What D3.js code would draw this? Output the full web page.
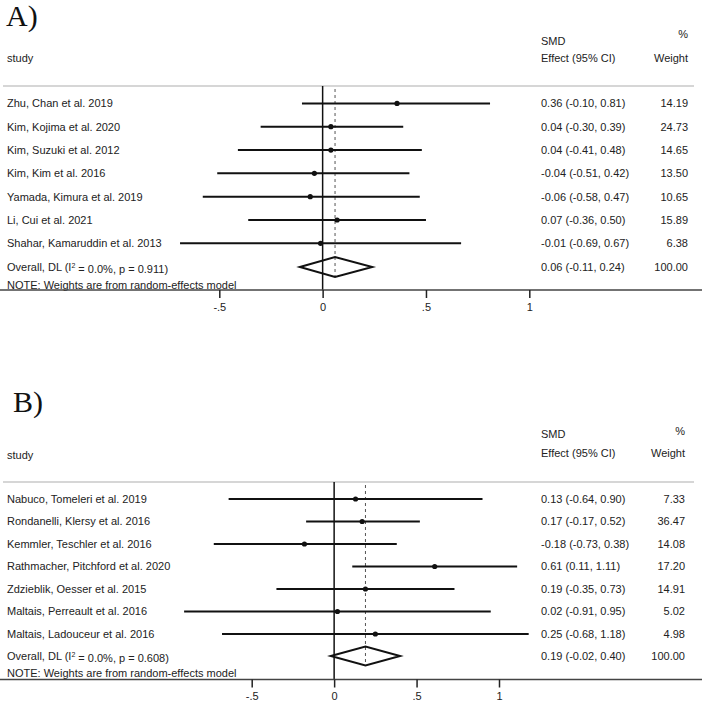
<!DOCTYPE html>
<html>
<head>
<meta charset="utf-8">
<script src="https://cdn.jsdelivr.net/npm/d3@7"></script>
<style>
html,body{margin:0;padding:0;background:#fff;}
svg{display:block;}
text{font-family:"Liberation Sans",Arial,sans-serif;font-size:11px;fill:#222;}
</style>
</head>
<body>
<div id="chart"></div>
<script>
// ---------- Data ----------
const studiesA = ["Zhu, Chan et al. 2019","Kim, Kojima et al. 2020","Kim, Suzuki et al. 2012","Kim, Kim et al. 2016","Yamada, Kimura et al. 2019","Li, Cui et al. 2021","Shahar, Kamaruddin et al. 2013"];
const effA = [0.36, 0.04, 0.04, -0.04, -0.06, 0.07, -0.01];
const lowA = [-0.10, -0.30, -0.41, -0.51, -0.58, -0.36, -0.69];
const highA = [0.81, 0.39, 0.48, 0.42, 0.47, 0.50, 0.67];
const weightA = ["14.19","24.73","14.65","13.50","10.65","15.89","6.38"];
const overallA = {est:0.06, low:-0.11, high:0.24, p:"0.911", i2:"0.0%", weight:"100.00"};

const studiesB = ["Nabuco, Tomeleri et al. 2019","Rondanelli, Klersy et al. 2016","Kemmler, Teschler et al. 2016","Rathmacher, Pitchford et al. 2020","Zdzieblik, Oesser et al. 2015","Maltais, Perreault et al. 2016","Maltais, Ladouceur et al. 2016"];
const effB = [0.13, 0.17, -0.18, 0.61, 0.19, 0.02, 0.25];
const lowB = [-0.64, -0.17, -0.73, 0.11, -0.35, -0.91, -0.68];
const highB = [0.90, 0.52, 0.38, 1.11, 0.73, 0.95, 1.18];
const weightB = ["7.33","36.47","14.08","17.20","14.91","5.02","4.98"];
const overallB = {est:0.19, low:-0.02, high:0.40, p:"0.608", i2:"0.0%", weight:"100.00"};

const tickValues = [-0.5, 0, 0.5, 1];
const tickLabels = ["-.5", "0", ".5", "1"];

// ---------- Drawing ----------
const W = 702, H = 703;
const svg = d3.select("#chart").append("svg").attr("width", W).attr("height", H);

const fmt = v => (v < 0 ? "-" : "") + Math.abs(v).toFixed(2);

function panel(cfg){
  const g = svg.append("g");
  const x = d3.scaleLinear().domain([-0.5, 1]).range(cfg.xr);
  const n = cfg.studies.length;
  const y = d3.scaleLinear().domain([0, n - 1]).range([cfg.row0, cfg.rowN]);

  // panel label
  g.append("text").attr("x", cfg.labX).attr("y", cfg.labY)
    .style("font-family", '"Liberation Serif","Times New Roman",serif')
    .style("font-size", "30px").style("fill", "#111").text(cfg.label);

  // header
  g.append("text").attr("x", 7).attr("y", cfg.hStudy).attr("dy", "0.35em").text("study");
  g.append("text").attr("x", 541).attr("y", cfg.hSMD).attr("dy", "0.35em").text("SMD");
  g.append("text").attr("x", 541).attr("y", cfg.hEff).attr("dy", "0.35em").text("Effect (95% CI)");
  g.append("text").attr("x", cfg.wRight).attr("y", cfg.hPct).attr("dy", "0.35em").attr("text-anchor", "end").text("%");
  g.append("text").attr("x", cfg.wRight).attr("y", cfg.hEff).attr("dy", "0.35em").attr("text-anchor", "end").text("Weight");

  // header separator
  g.append("line").attr("x1", 3).attr("x2", 694).attr("y1", cfg.hLine).attr("y2", cfg.hLine)
    .attr("stroke", "#c8c8c8").attr("stroke-width", 1.5);

  // zero line
  g.append("line").attr("x1", x(0)).attr("x2", x(0)).attr("y1", cfg.hLine).attr("y2", cfg.axisY)
    .attr("stroke", "#111").attr("stroke-width", 1.5);

  // overall dashed line
  g.append("line").attr("x1", x(cfg.overall.est)).attr("x2", x(cfg.overall.est))
    .attr("y1", cfg.hLine + 3).attr("y2", cfg.ovY + cfg.dh)
    .attr("stroke", "#555").attr("stroke-width", 1).attr("stroke-dasharray", "3,3");

  // studies
  const rows = cfg.studies.map((s, i) => ({s, e: cfg.eff[i], lo: cfg.low[i], hi: cfg.high[i], w: cfg.weight[i], i}));
  const r = g.selectAll("g.row").data(rows).enter().append("g").attr("class", "row");
  r.append("text").attr("x", 7).attr("y", d => y(d.i)).attr("dy", "0.35em").text(d => d.s);
  r.append("line").attr("x1", d => x(d.lo)).attr("x2", d => x(d.hi))
    .attr("y1", d => y(d.i)).attr("y2", d => y(d.i)).attr("stroke", "#111").attr("stroke-width", 2);
  r.append("circle").attr("cx", d => x(d.e)).attr("cy", d => y(d.i)).attr("r", 2.6).attr("fill", "#111");
  r.append("text").attr("x", 541).attr("y", d => y(d.i)).attr("dy", "0.35em")
    .text(d => `${fmt(d.e)} (${fmt(d.lo)}, ${fmt(d.hi)})`);
  r.append("text").attr("x", cfg.wRight).attr("y", d => y(d.i)).attr("dy", "0.35em").attr("text-anchor", "end").text(d => d.w);

  // overall
  const o = cfg.overall;
  const ot = g.append("text").attr("x", 7).attr("y", cfg.ovY).attr("dy", "0.35em");
  ot.append("tspan").text("Overall, DL (I");
  ot.append("tspan").attr("dy", "-0.45em").style("font-size", "7px").text("2");
  ot.append("tspan").attr("dy", "0.45em").text(` = ${o.i2}, p = ${o.p})`);
  g.append("path")
    .attr("d", `M${x(o.low)},${cfg.ovY} L${x(o.est)},${cfg.ovY - cfg.dh} L${x(o.high)},${cfg.ovY} L${x(o.est)},${cfg.ovY + cfg.dh} Z`)
    .attr("fill", "none").attr("stroke", "#111").attr("stroke-width", 2);
  g.append("text").attr("x", 541).attr("y", cfg.ovY).attr("dy", "0.35em")
    .text(`${fmt(o.est)} (${fmt(o.low)}, ${fmt(o.high)})`);
  g.append("text").attr("x", cfg.wRight).attr("y", cfg.ovY).attr("dy", "0.35em").attr("text-anchor", "end").text(o.weight);

  // note
  g.append("text").attr("x", 7).attr("y", cfg.noteY).attr("dy", "0.35em").text("NOTE: Weights are from random-effects model");

  // axis
  g.append("line").attr("x1", 0).attr("x2", W).attr("y1", cfg.axisY).attr("y2", cfg.axisY)
    .attr("stroke", "#444").attr("stroke-width", 1.5);
  const axis = d3.axisBottom(x).tickValues(tickValues).tickSize(8).tickPadding(5)
    .tickFormat((d, i) => tickLabels[i]);
  const ag = g.append("g").attr("transform", `translate(0,${cfg.axisY})`).call(axis);
  ag.select(".domain").remove();
  ag.selectAll(".tick line").attr("stroke", "#222").attr("stroke-width", 1.5);
  ag.selectAll(".tick text").style("font-family", '"Liberation Sans",Arial,sans-serif').style("font-size", "11px").attr("fill", "#222");
}

panel({
  label: "A)", labX: 6, labY: 26,
  studies: studiesA, eff: effA, low: lowA, high: highA, weight: weightA, overall: overallA,
  xr: [219.3, 529.3],
  hStudy: 58, hSMD: 41.5, hPct: 34, hEff: 58, hLine: 86,
  row0: 103.4, rowN: 243.3, ovY: 267, dh: 10, noteY: 285, axisY: 290, wRight: 688
});

panel({
  label: "B)", labX: 13, labY: 412,
  studies: studiesB, eff: effB, low: lowB, high: highB, weight: weightB, overall: overallB,
  xr: [251.7, 499],
  hStudy: 455, hSMD: 434, hPct: 431.5, hEff: 453.5, hLine: 482,
  row0: 499, rowN: 634, ovY: 656, dh: 9.5, noteY: 673, axisY: 679.5, wRight: 685
});
</script>
</body>
</html>
